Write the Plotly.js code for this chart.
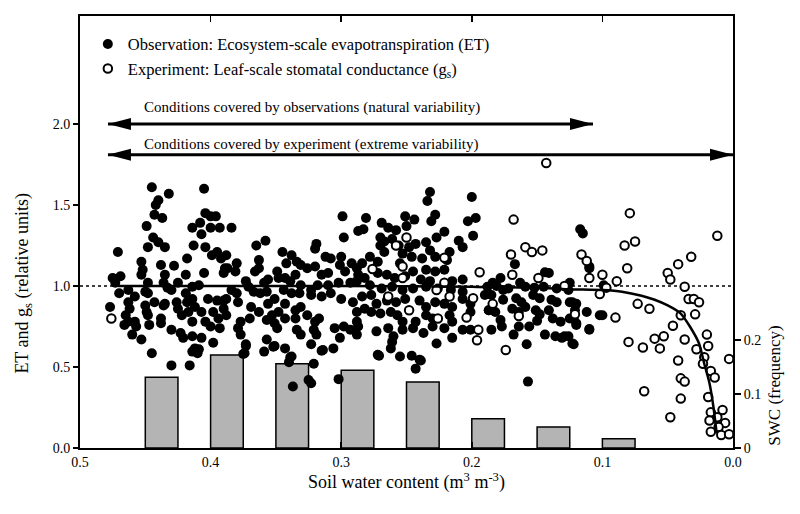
<!DOCTYPE html>
<html>
<head>
<meta charset="utf-8">
<script src="https://cdn.plot.ly/plotly-3.0.1.min.js"></script>
<style>html,body{margin:0;padding:0;background:#fff;}#chart{width:800px;height:514px;}</style>
</head>
<body>
<div id="chart"></div>
<script>
// Histogram of soil water content (frequency, right axis)
const binSWC = [0.4375, 0.3875, 0.3375, 0.2875, 0.2375, 0.1875, 0.1375, 0.0875];
const binFreq = [0.131, 0.172, 0.156, 0.144, 0.122, 0.054, 0.039, 0.017];

// Observation: ecosystem-scale ET (filled)
const obsSWC = [
0.445,0.432,0.440,0.442,0.405,0.443,0.437,0.449,0.471,0.444,
0.448,0.440,0.435,0.453,0.452,0.438,0.428,0.418,0.413,0.414,
0.408,0.404,0.400,0.396,0.400,0.393,0.407,0.404,0.399,0.395,
0.392,0.389,0.390,0.405,0.419,0.435,0.453,0.475,0.469,0.473,
0.470,0.463,0.450,0.448,0.436,0.433,0.425,0.430,0.414,0.409,
0.419,0.414,0.426,0.435,0.443,0.448,0.458,0.463,0.462,0.477,
0.465,0.463,0.466,0.458,0.457,0.460,0.453,0.448,0.447,0.438,
0.438,0.436,0.430,0.423,0.421,0.414,0.407,0.398,0.412,0.410,
0.416,0.445,0.425,0.422,0.417,0.414,0.412,0.407,0.404,0.400,
0.398,0.394,0.393,0.402,0.395,0.390,0.390,0.418,0.450,0.449,
0.430,0.414,0.409,0.375,0.373,0.351,0.339,0.337,0.315,0.271,
0.299,0.384,0.298,0.365,0.358,0.319,0.345,0.338,0.320,0.388,
0.380,0.363,0.387,0.381,0.366,0.363,0.349,0.342,0.334,0.331,
0.326,0.320,0.312,0.308,0.300,0.292,0.301,0.297,0.310,0.315,
0.335,0.343,0.348,0.339,0.331,0.356,0.359,0.373,0.371,0.384,
0.380,0.388,0.379,0.367,0.362,0.357,0.351,0.344,0.338,0.332,
0.323,0.318,0.310,0.302,0.293,0.288,0.323,0.315,0.308,0.300,
0.291,0.369,0.363,0.356,0.353,0.348,0.343,0.335,0.331,0.326,
0.335,0.343,0.351,0.349,0.357,0.370,0.377,0.379,0.377,0.388,
0.334,0.331,0.320,0.317,0.321,0.319,0.323,0.314,0.305,0.301,
0.298,0.293,0.288,0.306,0.373,0.374,0.357,0.359,0.352,0.343,
0.338,0.340,0.321,0.325,0.323,0.302,
0.232,0.234,0.200,0.197,0.203,0.199,0.281,0.283,0.287,0.251,
0.244,0.228,0.231,0.269,0.264,0.258,0.250,0.221,0.227,0.270,
0.267,0.261,0.270,0.267,0.256,0.248,0.243,0.235,0.232,0.228,
0.210,0.207,0.253,0.246,0.238,0.278,0.272,0.284,0.288,0.255,
0.245,0.235,0.228,0.221,0.217,0.219,0.265,0.272,0.282,0.287,
0.259,0.251,0.239,0.232,0.215,0.207,0.278,0.269,0.261,0.253,
0.245,0.235,0.226,0.216,0.207,0.190,0.284,0.277,0.273,0.265,
0.258,0.251,0.240,0.235,0.228,0.221,0.215,0.207,0.201,0.288,
0.282,0.277,0.270,0.262,0.257,0.253,0.243,0.235,0.230,0.217,
0.215,0.201,0.187,0.287,0.288,0.273,0.264,0.260,0.253,0.245,
0.237,0.230,0.221,0.215,0.207,0.201,0.261,0.262,0.272,0.255,
0.227,0.240,0.243,0.246,0.239,
0.117,0.115,0.167,0.110,0.144,0.141,0.178,0.184,0.188,0.181,
0.176,0.172,0.163,0.159,0.152,0.145,0.135,0.125,0.126,0.099,
0.185,0.176,0.166,0.162,0.153,0.148,0.139,0.135,0.123,0.120,
0.187,0.182,0.169,0.164,0.159,0.151,0.148,0.141,0.138,0.132,
0.125,0.121,0.112,0.102,0.178,0.177,0.185,0.164,0.156,0.168,
0.150,0.144,0.136,0.131,0.126,0.123,0.110,0.120,0.158,0.157,
0.110,0.100,0.110,0.122,0.120,0.125,0.129,0.122
];
const obsET = [
1.61,1.57,1.53,1.50,1.60,1.44,1.42,1.37,1.21,1.30,
1.24,1.27,1.24,1.15,1.10,1.13,1.125,1.17,1.25,1.36,
1.39,1.45,1.43,1.43,1.36,1.36,1.32,1.24,1.19,1.21,
1.17,1.11,1.08,1.08,1.07,1.07,1.07,1.05,1.06,1.02,
0.955,0.975,0.965,1.02,1.02,0.99,1.02,0.975,0.995,1.005,
0.955,0.92,0.90,0.89,0.90,0.955,0.935,0.90,0.86,0.87,
0.82,0.78,0.76,0.78,0.75,0.70,0.67,0.82,0.76,0.80,
0.77,0.88,0.73,0.71,0.68,0.69,0.68,0.65,0.615,0.585,
0.51,0.585,0.86,0.82,0.84,0.78,0.87,0.84,0.78,0.75,
0.84,0.80,0.74,0.92,0.91,0.91,0.86,0.90,0.88,0.84,
0.51,0.595,0.61,0.58,0.63,0.63,0.56,0.38,0.60,0.57,
1.43,1.36,1.30,1.25,1.28,1.26,1.21,1.19,1.23,1.19,
1.14,1.16,1.11,1.09,1.09,1.11,1.09,1.14,1.15,1.13,
1.11,1.12,1.18,1.17,1.18,1.14,1.13,1.09,1.08,1.07,
1.07,1.05,1.05,1.03,1.005,1.04,1.02,1.03,0.995,0.975,
0.955,0.92,0.90,0.965,0.955,0.965,0.92,0.975,0.955,0.955,
0.975,1.005,1.005,1.02,1.02,1.03,0.945,0.935,0.955,0.92,
0.90,0.87,0.84,0.89,0.82,0.84,0.89,0.85,0.87,0.82,
0.80,0.80,0.77,0.74,0.79,0.80,0.78,0.74,0.70,0.82,
0.73,0.70,0.78,0.80,0.73,0.70,0.64,0.605,0.74,0.68,
0.75,0.73,0.78,0.615,0.64,0.585,0.67,0.595,0.625,0.615,
0.565,0.53,0.52,0.42,0.40,0.425,
1.58,1.525,1.55,1.42,1.40,1.31,1.42,1.35,1.34,1.43,
1.41,1.44,1.40,1.39,1.36,1.345,1.37,1.335,1.30,1.30,
1.275,1.29,1.25,1.21,1.25,1.24,1.26,1.27,1.22,1.18,
1.28,1.24,1.20,1.18,1.17,1.18,1.15,1.14,1.11,1.14,
1.09,1.10,1.09,1.10,1.21,1.16,1.07,1.08,1.05,1.07,
1.05,1.06,1.04,1.03,1.03,1.04,1.005,0.985,0.995,0.975,
0.985,0.995,0.985,0.975,0.965,0.945,0.935,0.945,0.89,0.91,
0.90,0.92,0.91,0.87,0.90,0.89,0.87,0.92,0.89,0.84,
0.86,0.84,0.83,0.84,0.82,0.78,0.78,0.82,0.80,0.82,
0.78,0.84,0.85,0.75,0.70,0.72,0.74,0.69,0.73,0.74,
0.71,0.75,0.74,0.68,0.73,0.73,0.655,0.615,0.575,0.565,
0.645,0.545,0.49,0.57,0.54,
1.35,1.325,1.135,1.11,1.085,1.08,1.05,1.02,0.995,1.0,
0.975,0.985,1.02,0.995,0.99,0.995,0.985,1.02,0.975,1.005,
0.945,0.915,0.925,0.90,0.945,0.925,0.915,0.90,0.90,0.89,
0.85,0.84,0.86,0.84,0.87,0.85,0.825,0.85,0.80,0.78,
0.80,0.85,0.84,0.82,0.79,0.75,0.73,0.75,0.75,0.70,
0.785,0.70,0.69,0.68,0.69,0.645,0.735,0.76,0.64,0.41,
1.12,0.82,0.73,0.80,0.77,0.90,0.69,0.64
];

// Experiment: leaf-scale stomatal conductance (open)
const expSWC = [
0.476,
0.250,0.258,0.276,0.221,0.253,0.253,0.221,0.194,0.217,0.264,
0.248,0.226,0.204,0.199,0.195,0.196,0.227,
0.143,0.168,0.159,0.154,0.146,0.170,0.116,0.112,0.169,0.100,
0.110,0.149,0.089,0.129,0.097,0.102,0.121,0.164,0.090,0.184,0.174,
0.079,0.012,0.083,0.075,0.081,0.032,0.042,0.050,0.048,0.037,
0.034,0.030,0.026,0.073,0.064,0.029,0.040,0.046,0.020,0.037,
0.053,0.060,0.056,0.080,0.069,0.019,0.028,0.022,0.003,0.042,
0.023,0.017,0.014,0.040,0.037,0.068,0.040,0.019,0.048,0.017,
0.008,0.018,0.012,0.006,0.011,0.017,0.009,0.003
];
const expGs = [
0.80,
1.30,1.25,1.105,1.175,1.12,1.05,1.02,1.085,0.935,0.935,
0.85,0.80,0.805,0.925,0.73,0.665,0.975,
1.76,1.41,1.24,1.21,1.22,1.195,1.195,1.155,1.07,1.07,
1.05,1.05,1.03,1.0,0.99,0.95,0.825,0.815,0.805,0.89,0.605,
1.45,1.31,1.25,1.275,1.11,1.18,1.135,1.08,1.04,0.995,
0.92,0.92,0.90,0.89,0.86,0.825,0.82,0.755,0.70,0.67,
0.69,0.675,0.615,0.655,0.62,0.63,0.61,0.56,0.55,0.54,
0.52,0.475,0.435,0.43,0.41,0.35,0.305,0.315,0.19,0.22,
0.235,0.17,0.19,0.155,0.13,0.10,0.08,0.085
];

// Fitted response curve
const curveSWC = [0.471,0.40,0.30,0.20,0.15,0.127,0.10,0.085,0.070,0.060,0.050,0.040,0.033,0.026,0.022,0.018,0.015,0.0125];
const curveET  = [1.0,1.0,1.0,0.995,0.99,0.98,0.975,0.965,0.94,0.915,0.88,0.83,0.75,0.645,0.52,0.40,0.255,0.09];

const arrowLabels = ['Conditions covered by observations (natural variability)', 'Conditions covered by experiment (extreme variability)'];
const legendNames = ['Observation: Ecosystem-scale evapotranspiration (ET)', 'Experiment: Leaf-scale stomatal conductance (g<sub>s</sub>)'];

const FONT = 'Liberation Serif, Times New Roman, serif';

const traces = [
  {type:'bar', x:binSWC, y:binFreq, width:0.025, xaxis:'x', yaxis:'y',
   marker:{color:'#b4b4b4', line:{color:'black', width:1.5}}, showlegend:false, hoverinfo:'skip'},
  {type:'scatter', mode:'markers', x:obsSWC, y:obsET, xaxis:'x', yaxis:'y2', name:legendNames[0],
   marker:{color:'black', size:10, line:{width:0}}},
  {type:'scatter', mode:'markers', x:expSWC, y:expGs, xaxis:'x', yaxis:'y2', name:legendNames[1],
   marker:{color:'white', size:8.5, line:{color:'black', width:2}}},
  {type:'scatter', mode:'lines', x:curveSWC, y:curveET, xaxis:'x', yaxis:'y2',
   line:{color:'black', width:2.5, shape:'spline', smoothing:0.6}, showlegend:false, hoverinfo:'skip'}
];

const obsRange = [0.4786, 0.1072];
const expRange = [0.4786, 0.0];

function arrowShapes(r, yv){
  return [
    {type:'line', xref:'x', yref:'y2', x0:r[0], x1:r[1], y0:yv, y1:yv, line:{color:'black', width:3}},
    {type:'path', xref:'x', yref:'y2', xsizemode:'pixel', ysizemode:'pixel', xanchor:r[0], yanchor:yv,
     path:'M0,0 L23,6 L23,-6 Z', fillcolor:'black', line:{width:0}},
    {type:'path', xref:'x', yref:'y2', xsizemode:'pixel', ysizemode:'pixel', xanchor:r[1], yanchor:yv,
     path:'M0,0 L-23,6 L-23,-6 Z', fillcolor:'black', line:{width:0}}
  ];
}

const layout = {
  width:800, height:514,
  margin:{l:80, r:67, t:16, b:66},
  paper_bgcolor:'white', plot_bgcolor:'white',
  font:{family:FONT, color:'black', size:14},
  showlegend:true,
  legend:{x:0.012, y:0.975, xanchor:'left', yanchor:'top', bgcolor:'rgba(0,0,0,0)',
          font:{family:FONT, size:16.5, color:'black'}, tracegroupgap:0, itemwidth:30},
  bargap:0,
  xaxis:{range:[0.5, 0.0], tickvals:[0.5,0.4,0.3,0.2,0.1,0.0], ticktext:['0.5','0.4','0.3','0.2','0.1','0.0'],
         ticks:'inside', ticklen:6, tickwidth:1.5, tickcolor:'black', mirror:'ticks',
         showline:true, linewidth:2, linecolor:'black', showgrid:false, zeroline:false,
         tickfont:{family:FONT, size:14},
         title:{text:'Soil water content (m<sup>3</sup> m<sup>-3</sup>)', font:{family:FONT, size:18}, standoff:2}},
  yaxis:{side:'right', range:[0, 0.8], tickvals:[0,0.1,0.2], ticktext:['0','0.1','0.2'],
         ticks:'outside', ticklen:6, tickwidth:1.5, tickcolor:'black',
         showline:true, mirror:true, linewidth:2, linecolor:'black', showgrid:false, zeroline:false,
         tickfont:{family:FONT, size:14}},
  yaxis2:{overlaying:'y', side:'left', range:[0, 2.667], tickvals:[0,0.5,1.0,1.5,2.0],
          ticktext:['0.0','0.5','1.0','1.5','2.0'], ticks:'outside', ticklen:6, tickwidth:1.5, tickcolor:'black',
          showline:false, showgrid:false, zeroline:false, tickfont:{family:FONT, size:14}},
  shapes:[
    {type:'line', xref:'paper', yref:'y2', x0:0, x1:1, y0:1, y1:1, layer:'below',
     line:{color:'black', width:1.5, dash:'dot'}}
  ].concat(arrowShapes(obsRange, 2.0), arrowShapes(expRange, 1.81)),
  annotations:[
    {xref:'x', yref:'y2', x:0.4525, y:2.10, xanchor:'left', yanchor:'middle', showarrow:false,
     text:arrowLabels[0], font:{family:FONT, size:15}},
    {xref:'x', yref:'y2', x:0.4525, y:1.875, xanchor:'left', yanchor:'middle', showarrow:false,
     text:arrowLabels[1], font:{family:FONT, size:15}},
    {xref:'paper', yref:'y2', x:-0.086, y:1.02, xanchor:'center', yanchor:'middle', showarrow:false,
     textangle:-90, text:'ET and g<sub>s</sub> (relative units)', font:{family:FONT, size:18}},
    {xref:'paper', yref:'y', x:1.064, y:0.115, xanchor:'center', yanchor:'middle', showarrow:false,
     textangle:-90, text:'SWC (frequency)', font:{family:FONT, size:17}}
  ]
};

Plotly.newPlot('chart', traces, layout, {displayModeBar:false, staticPlot:true});
</script>
</body>
</html>
